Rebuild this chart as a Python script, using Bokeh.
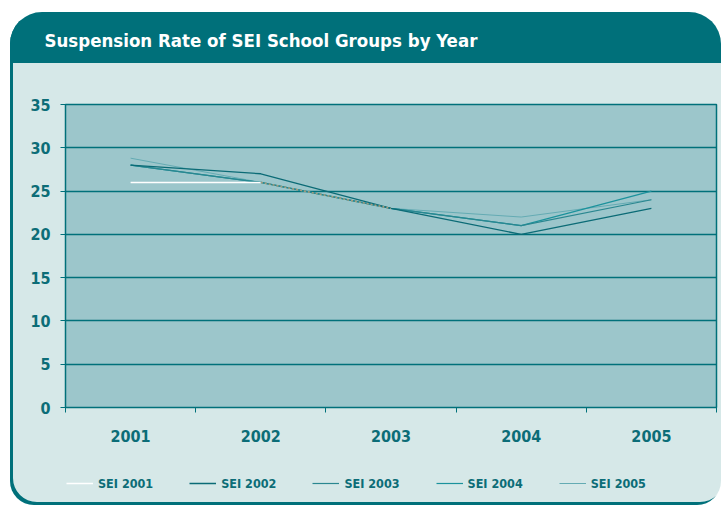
import numpy as np
from bokeh.plotting import figure
from bokeh.layouts import column
from bokeh.models import FixedTicker, Legend, LegendItem, Range1d
from bokeh.embed import file_html
from bokeh.resources import INLINE

# ---- data ----
years = ["2001", "2002", "2003", "2004", "2005"]
y_ticks = [0, 5, 10, 15, 20, 25, 30, 35]
nan = np.nan
sei_2001 = [26, 26, 23, nan, nan]
sei_2002 = [28, 27, 23, 20, 23]
sei_2003 = [28, 26, 23, 21, 24]
sei_2004 = [28, 26, 23, 21, 25]
sei_2005 = [28.8, 26, 23, 22, 24]
series_names = ["SEI 2001", "SEI 2002", "SEI 2003", "SEI 2004", "SEI 2005"]

TEAL = "#00707A"
TEXT = "#0C6D77"
BODY = "#D6E8E8"
PLOTBG = "#9CC6CB"
FONT = "DejaVu Sans Condensed, Roboto"
COLORS = ["white", "#0B6B76", "#2A8790", "#1B929C", "#64ABB3"]
WIDTHS = [1.5, 1.3, 1.2, 1.2, 1.0]
W = 711


def bare(fig):
    fig.border_fill_color = None
    fig.background_fill_color = None
    fig.outline_line_color = None
    fig.min_border = 0
    fig.grid.visible = False
    return fig


# ---- header (title) ----
head = bare(figure(width=W, height=80, output_backend="svg", toolbar_location=None,
                   x_axis_location=None, y_axis_location=None,
                   title="Suspension Rate of SEI School Groups by Year"))
head.title.text_color = "white"
head.title.text_font = FONT
head.title.text_font_size = "18.5px"
head.title.text_font_style = "bold"
head.title.align = "left"
head.title.offset = -21
head.title.vertical_align = "top"
head.title.standoff = 34

# ---- main chart ----
x = [i + 0.5 for i in range(len(years))]
series = [sei_2001, sei_2002, sei_2003, sei_2004, sei_2005]

p = figure(width=W, height=360, x_range=Range1d(0, len(years)), y_range=Range1d(0, 35),
           output_backend="svg", toolbar_location=None)
p.border_fill_color = None
p.background_fill_color = PLOTBG
p.outline_line_color = TEAL
p.outline_line_width = 1.5
p.min_border_left = 55
p.min_border_right = 5
p.min_border_top = 12
p.min_border_bottom = 45

p.xgrid.grid_line_color = None
p.ygrid.ticker = FixedTicker(ticks=y_ticks)
p.ygrid.grid_line_color = TEAL
p.ygrid.grid_line_width = 1.5

p.yaxis.ticker = FixedTicker(ticks=y_ticks)
p.yaxis.axis_line_color = TEAL
p.yaxis.major_tick_line_color = TEAL
p.yaxis.major_tick_out = 5
p.yaxis.major_tick_in = 0
p.yaxis.minor_tick_line_color = None
p.yaxis.major_label_text_color = TEXT
p.yaxis.major_label_text_font = FONT
p.yaxis.major_label_text_font_style = "bold"
p.yaxis.major_label_text_font_size = "16px"
p.yaxis.major_label_standoff = 10

p.xaxis.ticker = FixedTicker(ticks=x, minor_ticks=list(range(len(years) + 1)))
p.xaxis.major_label_overrides = {xv: yr for xv, yr in zip(x, years)}
p.xaxis.axis_line_color = TEAL
p.xaxis.major_tick_line_color = None
p.xaxis.major_tick_out = 0
p.xaxis.major_tick_in = 0
p.xaxis.minor_tick_line_color = TEAL
p.xaxis.minor_tick_out = 5
p.xaxis.minor_tick_in = 0
p.xaxis.major_label_text_color = TEXT
p.xaxis.major_label_text_font = FONT
p.xaxis.major_label_text_font_style = "bold"
p.xaxis.major_label_text_font_size = "16px"
p.xaxis.major_label_standoff = 17

for i in [4, 3, 2, 1]:
    p.line(x, series[i], line_color=COLORS[i], line_width=WIDTHS[i])
p.line(x[:2], sei_2001[:2], line_color=COLORS[0], line_width=WIDTHS[0])
p.line(x[1:3], sei_2001[1:3], line_color="#A39C7E", line_width=1.7, line_dash="2 2")

# ---- legend strip (same series, drawn outside its visible range: only the key shows) ----
leg = bare(figure(width=W, height=53, output_backend="svg", toolbar_location=None,
                  x_axis_location=None, y_axis_location=None,
                  x_range=Range1d(0, len(years)), y_range=Range1d(100, 101)))
items = []
for name, s, c, w in zip(series_names, series, COLORS, WIDTHS):
    r = leg.line(x, s, line_color=c, line_width=w)
    items.append(LegendItem(label=name, renderers=[r]))
legend = Legend(items=items, orientation="horizontal", location=(1, 14))
legend.background_fill_color = None
legend.border_line_color = None
legend.padding = 0
legend.margin = 0
legend.spacing = 36
legend.glyph_width = 27
legend.glyph_height = 16
legend.label_standoff = 5
legend.label_text_color = TEXT
legend.label_text_font = FONT
legend.label_text_font_style = "bold"
legend.label_text_font_size = "12.5px"
leg.add_layout(legend)

page = column(head, p, leg, spacing=0, margin=(12, 0, 0, 10),
              styles={"border-radius": "32px 32px 24px 24px", "overflow": "hidden",
                      "background": f"linear-gradient({TEAL} 0px, {TEAL} 51px, {BODY} 51px)",
                      "box-shadow": f"inset 3px -3px 0 {TEAL}"})

open("out.html", "w").write(file_html(page, INLINE))
